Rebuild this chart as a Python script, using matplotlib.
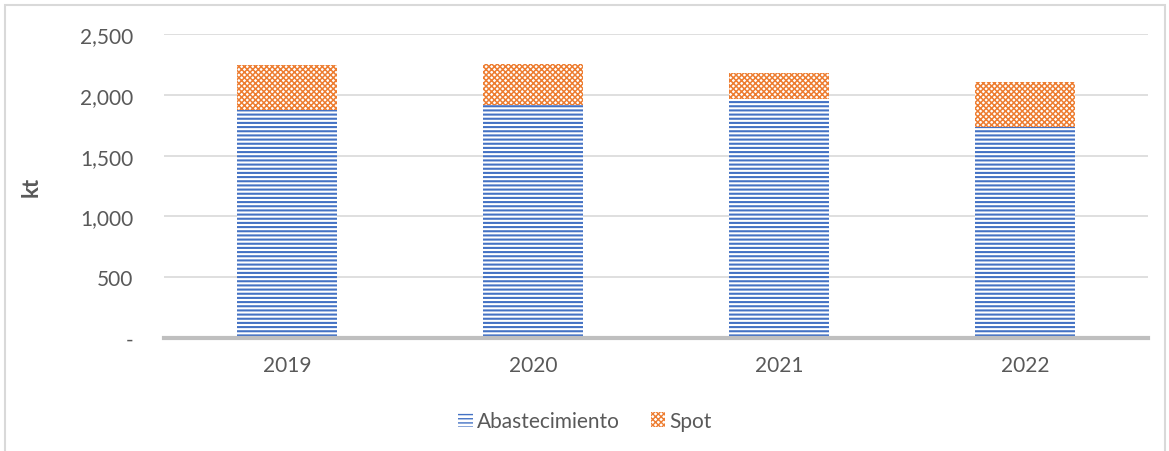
import matplotlib.pyplot as plt
from matplotlib.patches import Rectangle, Patch

years = ["2019", "2020", "2021", "2022"]
abastecimiento = [1875, 1920, 1965, 1735]
spot = [370, 330, 215, 370]
yticks = [0, 500, 1000, 1500, 2000, 2500]
ytick_labels = ["-", "500", "1,000", "1,500", "2,000", "2,500"]

BLUE = "#4472C4"
ORANGE = "#ED7D31"
TEXT = "#595959"

plt.rcParams["font.family"] = ["Lato", "DejaVu Sans"]


def set_hatch_width(patches, lw):
    for p in patches:
        if hasattr(p, "set_hatch_linewidth"):
            p.set_hatch_linewidth(lw)


fig = plt.figure(figsize=(11.69, 4.52), dpi=100)
# light border around the chart area
fig.patches.append(Rectangle((5 / 1169, -0.05), 1160 / 1169, 1 - 6 / 452 + 0.05,
                             transform=fig.transFigure, fill=False,
                             edgecolor="#D9D9D9", linewidth=1.5))

ax = fig.add_axes([164 / 1169, 1 - 339 / 452, 984 / 1169, 304 / 452])
x = range(len(years))
b1 = ax.bar(x, abastecimiento, width=0.41, color="white", edgecolor=BLUE,
            linewidth=0, hatch="----", zorder=3)
b2 = ax.bar(x, spot, width=0.41, bottom=abastecimiento, color="white",
            edgecolor=ORANGE, linewidth=0, hatch="xxxxxx", zorder=3)
set_hatch_width(b1, 1.5)
set_hatch_width(b2, 1.1)

ax.set_xlim(-0.5, 3.5)
ax.set_ylim(0, 2500)
ax.set_yticks(yticks)
ax.set_yticklabels(ytick_labels)
ax.set_xticks(list(x))
ax.set_xticklabels(years)
ax.tick_params(axis="both", length=0, labelsize=15, colors=TEXT)
ax.tick_params(axis="y", pad=22)
ax.tick_params(axis="x", pad=12)
ax.grid(axis="y", color="#D9D9D9", linewidth=1.2, zorder=0)
for side in ["top", "right", "left"]:
    ax.spines[side].set_visible(False)
ax.spines["bottom"].set_color("#BFBFBF")
ax.spines["bottom"].set_linewidth(3)
ax.spines["bottom"].set_zorder(4)
ax.set_ylabel("kt", fontsize=16, fontweight="bold", color=TEXT, labelpad=28)

handles = [Patch(facecolor="white", edgecolor=BLUE, linewidth=0, hatch="----"),
           Patch(facecolor="white", edgecolor=ORANGE, linewidth=0, hatch="xxxxxx")]
set_hatch_width(handles[:1], 1.5)
set_hatch_width(handles[1:], 1.1)
fig.legend(handles, ["Abastecimiento", "Spot"], loc="center",
           bbox_to_anchor=(585 / 1169, 1 - 422 / 452), ncol=2, frameon=False,
           fontsize=15, labelcolor=TEXT, handlelength=0.7, handleheight=0.7,
           handletextpad=0.2, columnspacing=1.5)

fig.savefig("out.png", dpi=100)
